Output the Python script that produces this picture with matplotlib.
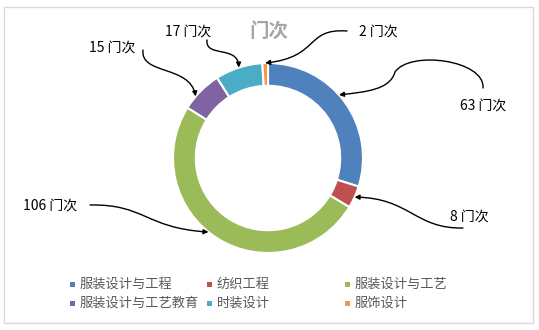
import numpy as np
import matplotlib.pyplot as plt
from matplotlib.patches import Rectangle, FancyArrowPatch
from matplotlib.path import Path

plt.rcParams['font.family'] = ['Noto Sans CJK SC', 'DejaVu Sans']

categories = ['服装设计与工程', '纺织工程', '服装设计与工艺',
              '服装设计与工艺教育', '时装设计', '服饰设计']
counts = [63, 8, 106, 15, 17, 2]
colors = ['#4F81BD', '#C0504D', '#9BBB59', '#8064A2', '#4BACC6', '#F79646']
unit = '门次'

W, H = 539, 330


def px(x, y):
    """pixel coords (origin top-left) -> data coords."""
    return (x, H - y)


fig = plt.figure(figsize=(W / 100, H / 100), dpi=100)
ax = fig.add_axes([0, 0, 1, 1])

cx, cy = px(268, 158)
R = 95
wedges, _ = ax.pie(counts, colors=colors, startangle=90, counterclock=False,
                   center=(cx, cy), radius=R, frame=True,
                   wedgeprops=dict(width=R * 0.24, edgecolor='white', linewidth=1.5))
ax.set_xlim(0, W)
ax.set_ylim(0, H)
ax.set_aspect('auto')
ax.axis('off')

# chart border
ax.add_patch(Rectangle(px(4, 323), 529, 316, fill=False, edgecolor='#D9D9D9', lw=1))

ax.text(*px(269, 31), unit, ha='center', va='center', fontsize=14,
        fontweight='bold', color='#A6A6A6')

# label layout: text centre, connector start + control points, where it hits the wedge
label_pos = [(483, 106), (469, 217), (50, 206), (112, 48), (188, 32), (378, 32)]
tip_frac = [0.45, 0.5, 0.54, 0.33, 0.5, 0.5]  # 0 = wedge start (clockwise), 1 = end
connectors = [
    [(483, 88), (485, 60), (410, 50), (395, 72), (390, 90), (365, 92)],
    [(463, 228), (415, 229), (410, 198)],
    [(90, 205), (145, 204), (145, 228)],
    [(143, 50), (140, 75), (190, 65)],
    [(207, 40), (205, 58), (238, 45)],
    [(347, 31), (305, 28), (320, 57)],
]

for w, n, pos, frac, pts in zip(wedges, counts, label_pos, tip_frac, connectors):
    ax.text(*px(*pos), f'{n} {unit}', ha='center', va='center', fontsize=10, color='black')
    # clockwise pie: theta2 is where the wedge starts
    ang = np.deg2rad(w.theta2 - (w.theta2 - w.theta1) * frac)
    tip = (cx + R * np.cos(ang), cy + R * np.sin(ang))
    verts = [px(*p) for p in pts] + [tip]
    codes = [Path.MOVETO] + [Path.CURVE4] * (len(verts) - 1)
    ax.add_patch(FancyArrowPatch(path=Path(verts, codes), arrowstyle='-|>',
                                 mutation_scale=7, lw=1, color='black'))

# legend, laid out like the Excel one
col_x = [72, 209, 347]
row_y = [284, 303]
for i, (cat, c) in enumerate(zip(categories, colors)):
    x, y = col_x[i % 3], row_y[i // 3]
    ax.add_patch(Rectangle(px(x - 2.5, y + 2.5), 5, 5, color=c, lw=0))
    ax.text(*px(x + 8, y), cat, ha='left', va='center', fontsize=9.5, color='#595959')

fig.savefig('out.png', dpi=100)
